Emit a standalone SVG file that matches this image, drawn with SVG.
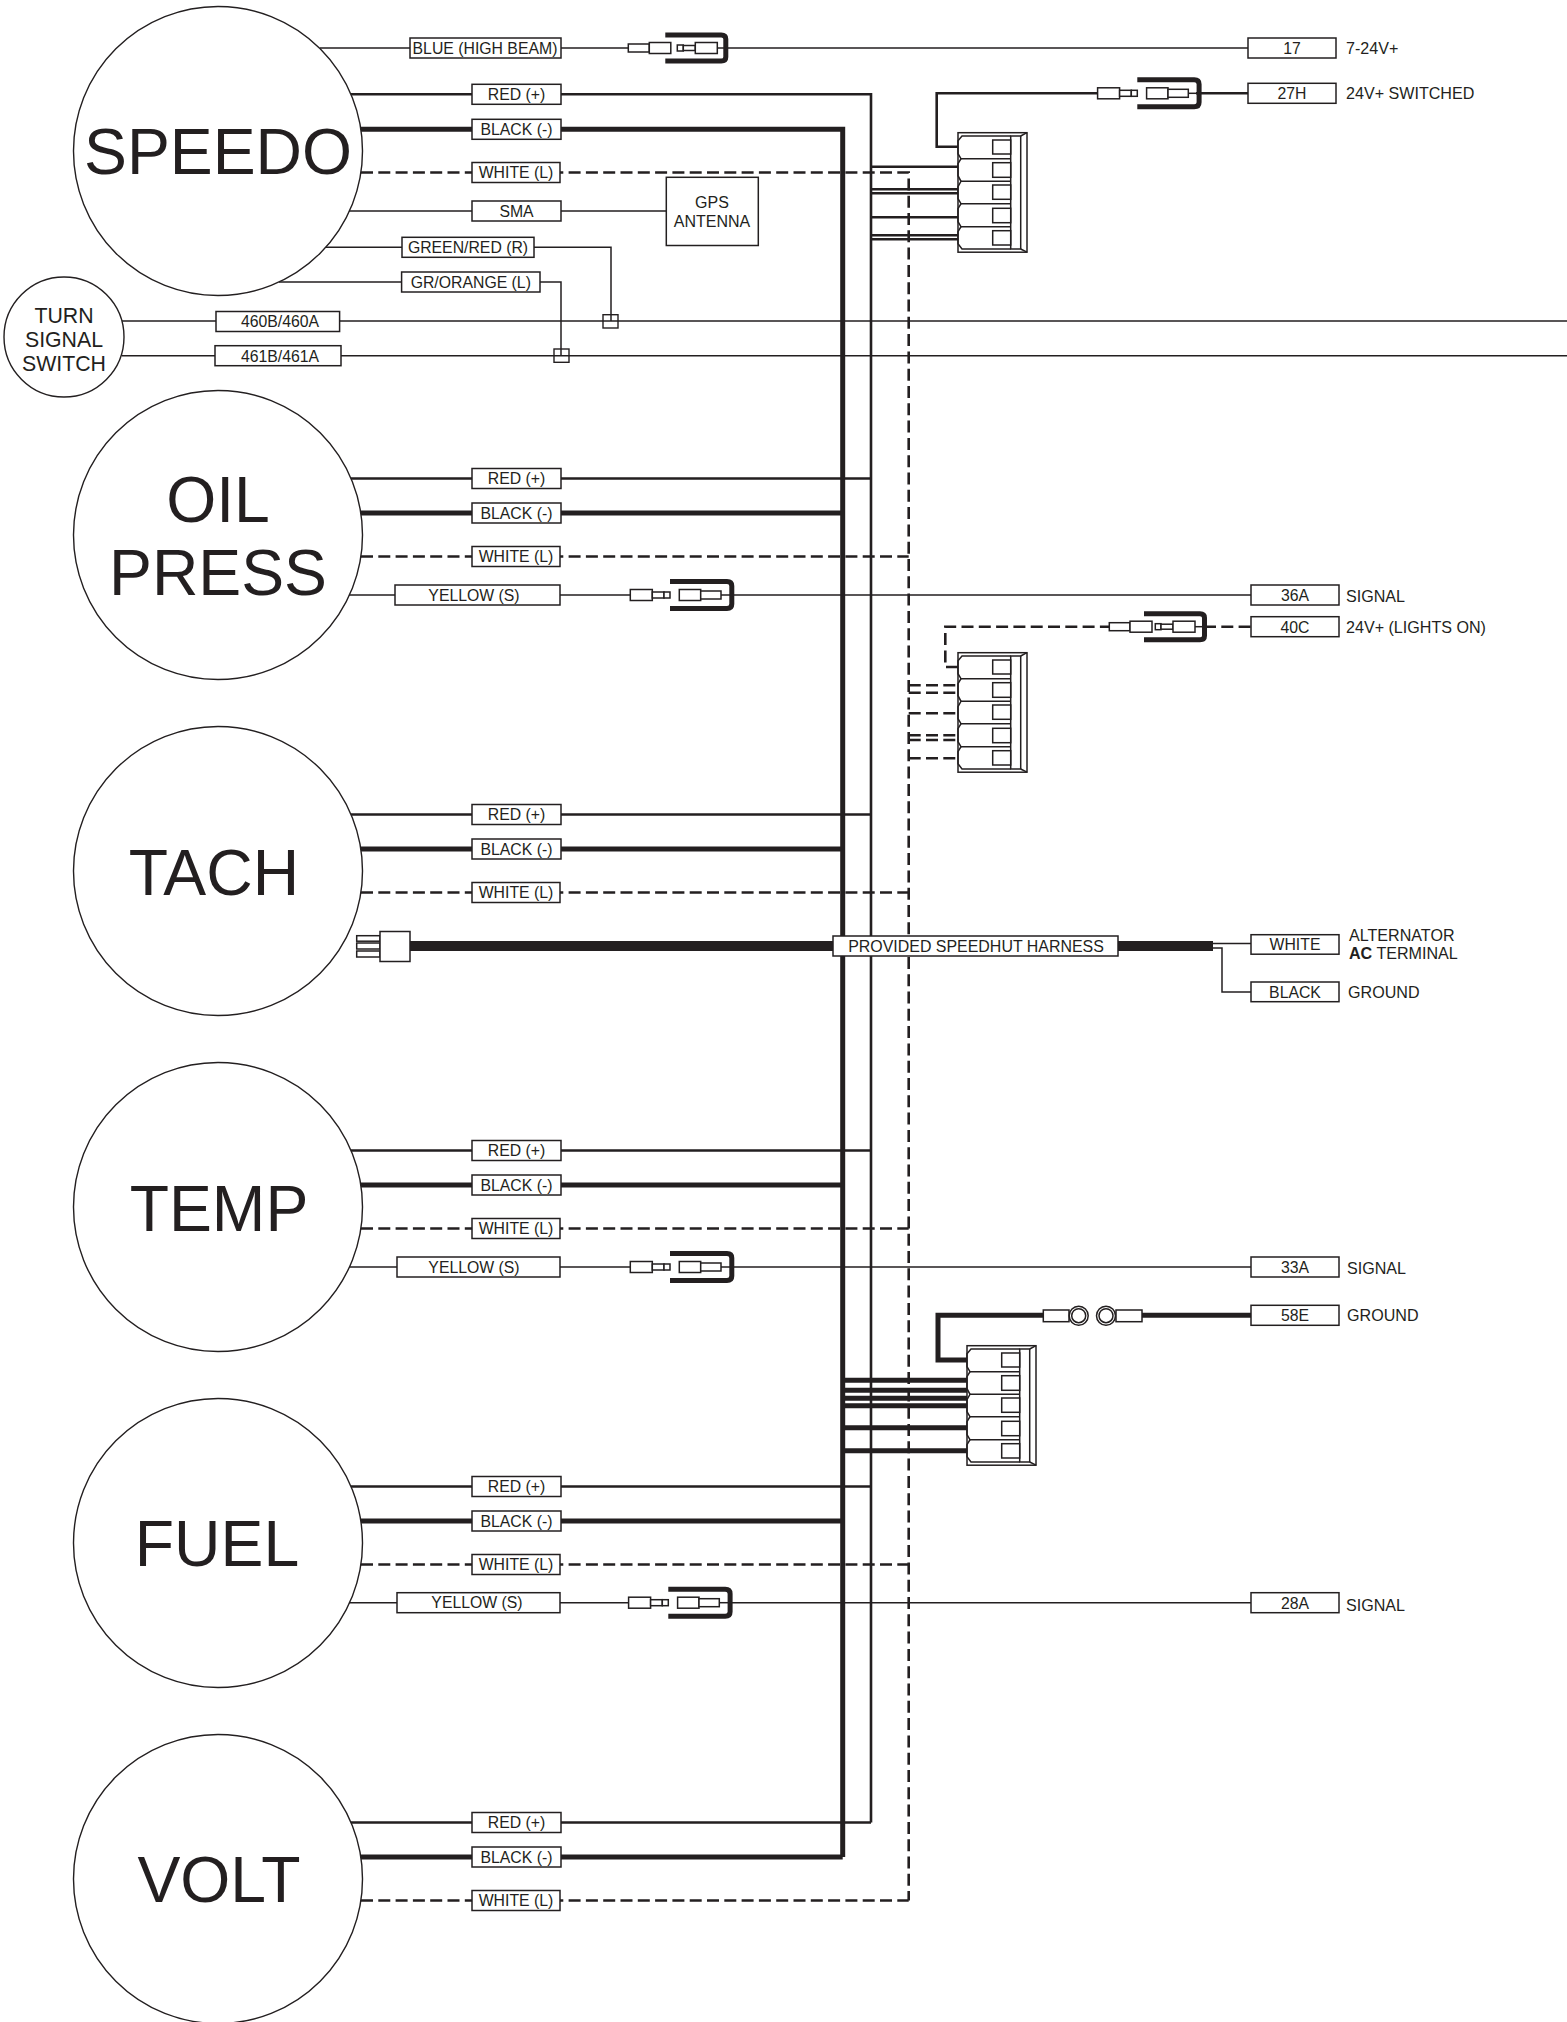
<svg xmlns="http://www.w3.org/2000/svg" width="1567" height="2022" viewBox="0 0 1567 2022">
<style>
text{font-family:"Liberation Sans",Arial,sans-serif;fill:#231f20}
.t{font-size:15.8px;text-anchor:middle}
.r{font-size:16.1px}
.big{font-size:64.3px;text-anchor:middle}
.n{font-size:21.3px;text-anchor:middle}
.g{font-size:16px;text-anchor:middle}
.b{fill:#fff;stroke:#231f20;stroke-width:1.5}
.c{fill:#fff;stroke:#231f20;stroke-width:1.4}
.w{fill:none;stroke:#231f20;stroke-linejoin:miter}
.th{stroke-width:1.5}
.md{stroke-width:2.6}
.hv{stroke-width:5}
.da{stroke-width:2.6;stroke-dasharray:12 5.300}
</style>
<defs>
<g id="plug-a">
<path class="w th" d="M52 0H62"/>
<rect class="b" x="-37" y="-4" width="21" height="8"/>
<rect class="b" x="-16" y="-5.500" width="21.500" height="11"/>
<rect class="b" x="12" y="-3" width="6" height="6"/>
<rect class="b" x="18" y="-2.500" width="12" height="5"/>
<rect class="b" x="30" y="-5.500" width="22" height="11"/>
<path class="w hv" d="M0 -13H56Q60.500 -13 60.500 -9V9Q60.500 13 56 13H0"/>
</g>
<g id="plug-b">
<path class="w th" d="M51 0H62"/>
<rect class="b" x="-39.700" y="-5.500" width="22" height="11"/>
<rect class="b" x="-17.700" y="-3" width="11.700" height="6"/>
<rect class="b" x="-6" y="-3" width="6" height="6"/>
<rect class="b" x="9.300" y="-5.500" width="21.400" height="11"/>
<rect class="b" x="30.700" y="-4" width="20.300" height="8"/>
<path class="w hv" d="M0 -13.500H57Q61.800 -13.500 61.800 -9V9Q61.800 13.500 57 13.500H0"/>
</g>
<g id="conn">
<rect class="b" x="0" y="0" width="69" height="119.500"/>
<path class="w" stroke-width="1.500" d="M52.700 3.300H4L0 8V21L3 26L0 31V43L3 48.600L0 54V66L3 71L0 76V89L3 94L0 99V111L4 116.300H52.700"/>
<path class="w" stroke-width="1.500" d="M3 26H52.700M3 48.600H52.700M3 71H52.700M3 94H52.700M62.700 3.300L69 0M62.700 116.300L69 119.500"/>
<rect class="b" x="52.700" y="3.300" width="10" height="113"/>
<rect class="b" x="34.700" y="7.300" width="18" height="14"/>
<rect class="b" x="34.700" y="30" width="18" height="14.600"/>
<rect class="b" x="34.700" y="52.300" width="18" height="14.300"/>
<rect class="b" x="34.700" y="75.600" width="18" height="14.400"/>
<rect class="b" x="34.700" y="98" width="18" height="14.300"/>
</g>
</defs>
<g id="connectors">
<path class="w th" d="M320 48H628M728 48H1248"/>
<path class="w md" d="M351 94.300H871V1822.500M351 478.500H871M351 814.500H871M351 1150.500H871M351 1486.500H871M351 1822.500H871"/>
<path class="w hv" d="M361 129.300H842.700V1857M361 513H842.700M361 849H842.700M361 1185H842.700M361 1521H842.700M361 1857H842.700"/>
<path class="w da" d="M361 172.500H908.700V1900.500M361 556.500H908.700M361 892.500H908.700M361 1228.500H908.700M361 1564.500H908.700M361 1900.500H908.700"/>
<path class="w th" d="M349 211H666M325.700 247.300H611V321M279 282H561V355.700M122 321H1567M122 355.700H1567"/>
<path class="w md" d="M958 146.700H936.700V93.300H1100M1196 93.300H1248"/>
<path class="w md" d="M871 166.700H958M871 189.300H958M871 193.300H958M871 217.300H958M871 235.300H958M871 239.300H958"/>
<path class="w th" d="M349 595H632M730 595H1251M349 1267H632M730 1267H1251M349 1602.700H630M728 1602.700H1251"/>
<path class="w da" d="M958 667H945.300V626.700H1109M1204 626.700H1251"/>
<path class="w da" d="M908.700 685.300H958M908.700 692.700H958M908.700 713.300H958M908.700 735.300H958M908.700 740H958M908.700 758.300H958"/>
<path class="w hv" d="M967 1360H938V1315.300H1043M1142 1315.300H1251"/>
<path class="w hv" d="M842.700 1380.300H967M842.700 1390.300H967M842.700 1398.300H967M842.700 1405.700H967M842.700 1427.700H967M842.700 1450.700H967"/>
<path class="w" stroke-width="10" d="M410 946H1213"/>
<path class="w th" d="M1213 943.500H1251M1213 948H1222V992H1251"/>
</g>
<g id="plug-blue"><use href="#plug-a" x="665.300" y="48"/></g>
<g id="plug-27h"><use href="#plug-b" x="1137.300" y="93.300"/></g>
<g id="plug-36a"><use href="#plug-b" x="670" y="595"/></g>
<g id="plug-40c">
<path class="w th" d="M1195 626.700H1206"/>
<rect class="b" x="1109.300" y="622.700" width="20.700" height="8"/>
<rect class="b" x="1130" y="621.200" width="22" height="11"/>
<rect class="b" x="1155.300" y="623.700" width="5.700" height="6"/>
<rect class="b" x="1161" y="624.200" width="12" height="5"/>
<rect class="b" x="1173" y="621.200" width="22" height="11"/>
<path class="w hv" d="M1144 613.700H1200Q1204.500 613.700 1204.500 617.700V635.700Q1204.500 639.700 1200 639.700H1144"/>
</g>
<g id="plug-33a"><use href="#plug-b" x="670" y="1267"/></g>
<g id="plug-28a"><use href="#plug-b" x="668.300" y="1602.700"/></g>
<g id="connector-a"><use href="#conn" x="958" y="132.700"/></g>
<g id="connector-b"><use href="#conn" x="958" y="652.700"/></g>
<g id="connector-c"><use href="#conn" x="967" y="1345.700"/></g>
<g id="ring-terminals">
<rect class="b" x="1043.300" y="1310" width="25.700" height="11.700"/>
<circle class="b" cx="1078.700" cy="1315.700" r="9.500"/><circle class="b" cx="1078.700" cy="1315.700" r="7"/>
<circle class="b" cx="1106" cy="1315.700" r="9.500"/><circle class="b" cx="1106" cy="1315.700" r="7"/>
<rect class="b" x="1116" y="1310" width="26" height="11.700"/>
</g>
<g id="harness-plug">
<rect class="b" x="356.700" y="935.700" width="23.300" height="5.500"/>
<rect class="b" x="356.700" y="943" width="23.300" height="6"/>
<rect class="b" x="356.700" y="951" width="23.300" height="6"/>
<rect class="b" x="380" y="931.500" width="30" height="30"/>
</g>
<g id="splices">
<rect class="c" style="fill:none" x="603" y="314.700" width="15" height="13.300"/>
<rect class="c" style="fill:none" x="554" y="349" width="15" height="13.300"/>
</g>

<g id="speedo"><circle class="c" cx="218" cy="151" r="144.500"/><text class="big" x="218" y="174">SPEEDO</text></g>
<g id="turn-signal-switch"><circle class="c" cx="64" cy="337" r="60"/><text class="n" x="64" y="322.700">TURN</text><text class="n" x="64" y="346.700">SIGNAL</text><text class="n" x="64" y="370.700">SWITCH</text></g>
<g id="oil-press"><circle class="c" cx="218" cy="535" r="144.500"/><text class="big" x="218" y="522">OIL</text><text class="big" x="218" y="595">PRESS</text></g>
<g id="tach"><circle class="c" cx="218" cy="871" r="144.500"/><text class="big" x="214" y="895">TACH</text></g>
<g id="temp"><circle class="c" cx="218" cy="1207" r="144.500"/><text class="big" x="219" y="1231">TEMP</text></g>
<g id="fuel"><circle class="c" cx="218" cy="1543" r="144.500"/><text class="big" x="217" y="1566">FUEL</text></g>
<g id="volt"><circle class="c" cx="218" cy="1879" r="144.500"/><text class="big" x="219" y="1902">VOLT</text></g>

<g id="gps-antenna"><rect class="b" x="666.300" y="177.300" width="92" height="68.200"/><text class="g" x="712" y="208">GPS</text><text class="g" x="712" y="226.700">ANTENNA</text></g>

<g id="wire-labels">
<rect class="b" x="410" y="38" width="151" height="20"/><text class="t" x="485" y="53.600">BLUE (HIGH BEAM)</text>
<rect class="b" x="472" y="84.300" width="89" height="20"/><text class="t" x="516.500" y="100">RED (+)</text>
<rect class="b" x="472" y="119.300" width="89" height="20"/><text class="t" x="516.500" y="134.900">BLACK (-)</text>
<rect class="b" x="472" y="162.500" width="88" height="20"/><text class="t" x="516" y="178.200">WHITE (L)</text>
<rect class="b" x="472" y="201" width="89" height="20"/><text class="t" x="516.500" y="216.800">SMA</text>
<rect class="b" x="402" y="237.300" width="132" height="20"/><text class="t" x="468" y="253.100">GREEN/RED (R)</text>
<rect class="b" x="401.600" y="272" width="138.400" height="20"/><text class="t" x="470.800" y="287.800">GR/ORANGE (L)</text>
<rect class="b" x="216" y="311.500" width="123.600" height="20"/><text class="t" x="280" y="327.200">460B/460A</text>
<rect class="b" x="215" y="345.700" width="126" height="20"/><text class="t" x="280" y="361.500">461B/461A</text>

<rect class="b" x="472" y="468.500" width="89" height="20"/><text class="t" x="516.500" y="484.200">RED (+)</text>
<rect class="b" x="472" y="503" width="89" height="20"/><text class="t" x="516.500" y="518.800">BLACK (-)</text>
<rect class="b" x="472" y="546.500" width="88" height="20"/><text class="t" x="516" y="562.200">WHITE (L)</text>
<rect class="b" x="395" y="585" width="165" height="20"/><text class="t" x="474" y="600.800">YELLOW (S)</text>

<rect class="b" x="472" y="804.500" width="89" height="20"/><text class="t" x="516.500" y="820.200">RED (+)</text>
<rect class="b" x="472" y="839" width="89" height="20"/><text class="t" x="516.500" y="854.800">BLACK (-)</text>
<rect class="b" x="472" y="882.500" width="88" height="20"/><text class="t" x="516" y="898.200">WHITE (L)</text>

<rect class="b" x="833" y="936" width="285" height="20"/><text class="t" x="976" y="951.600" style="font-size:15.950px">PROVIDED SPEEDHUT HARNESS</text>

<rect class="b" x="472" y="1140.500" width="89" height="20"/><text class="t" x="516.500" y="1156.200">RED (+)</text>
<rect class="b" x="472" y="1175" width="89" height="20"/><text class="t" x="516.500" y="1190.800">BLACK (-)</text>
<rect class="b" x="472" y="1218.500" width="88" height="20"/><text class="t" x="516" y="1234.200">WHITE (L)</text>
<rect class="b" x="397" y="1257" width="163" height="20"/><text class="t" x="474" y="1272.800">YELLOW (S)</text>

<rect class="b" x="472" y="1476.500" width="89" height="20"/><text class="t" x="516.500" y="1492.200">RED (+)</text>
<rect class="b" x="472" y="1511" width="89" height="20"/><text class="t" x="516.500" y="1526.800">BLACK (-)</text>
<rect class="b" x="472" y="1554.500" width="88" height="20"/><text class="t" x="516" y="1570.200">WHITE (L)</text>
<rect class="b" x="397" y="1592.700" width="163" height="20"/><text class="t" x="477" y="1608.400">YELLOW (S)</text>

<rect class="b" x="472" y="1812.500" width="89" height="20"/><text class="t" x="516.500" y="1828.200">RED (+)</text>
<rect class="b" x="472" y="1847" width="89" height="20"/><text class="t" x="516.500" y="1862.800">BLACK (-)</text>
<rect class="b" x="472" y="1890.500" width="88" height="20"/><text class="t" x="516" y="1906.200">WHITE (L)</text>
</g>

<g id="terminals">
<rect class="b" x="1248" y="38" width="88" height="20"/><text class="t" x="1292" y="53.800">17</text><text class="r" x="1346" y="53.600">7-24V+</text>
<rect class="b" x="1248" y="83.300" width="88" height="20"/><text class="t" x="1292" y="99">27H</text><text class="r" x="1346" y="98.800">24V+ SWITCHED</text>
<rect class="b" x="1251" y="585" width="88" height="20"/><text class="t" x="1295" y="600.800">36A</text><text class="r" x="1346" y="601.800">SIGNAL</text>
<rect class="b" x="1251" y="616.700" width="88" height="20"/><text class="t" x="1295" y="632.500">40C</text><text class="r" x="1346" y="633.200">24V+ (LIGHTS ON)</text>
<rect class="b" x="1251" y="934.700" width="88" height="19.500"/><text class="t" x="1295" y="950.200">WHITE</text><text class="r" x="1349" y="941">ALTERNATOR</text><text class="r" x="1349" y="959"><tspan font-weight="700">AC</tspan> TERMINAL</text>
<rect class="b" x="1251" y="982" width="88" height="19.700"/><text class="t" x="1295" y="997.600">BLACK</text><text class="r" x="1348" y="997.800">GROUND</text>
<rect class="b" x="1251" y="1257" width="88" height="20"/><text class="t" x="1295" y="1272.800">33A</text><text class="r" x="1347" y="1274">SIGNAL</text>
<rect class="b" x="1251" y="1305.300" width="88" height="20"/><text class="t" x="1295" y="1321.100">58E</text><text class="r" x="1347" y="1321.300">GROUND</text>
<rect class="b" x="1251" y="1592.700" width="88" height="20"/><text class="t" x="1295" y="1608.500">28A</text><text class="r" x="1346" y="1611">SIGNAL</text>
</g>
</svg>
